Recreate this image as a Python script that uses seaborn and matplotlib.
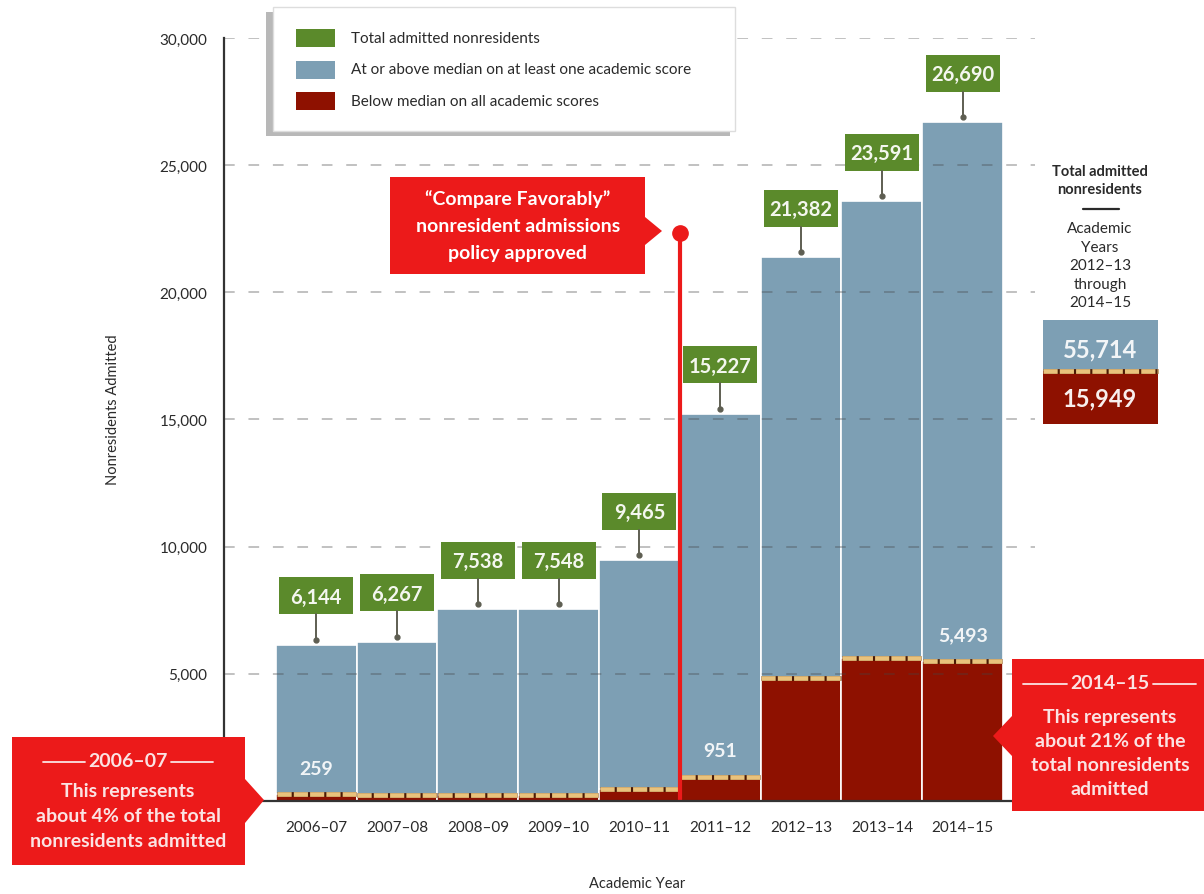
import matplotlib
matplotlib.use("Agg")
import matplotlib.pyplot as plt
import seaborn as sns
import pandas as pd
from matplotlib.patches import Polygon
from matplotlib.lines import Line2D

# ---- data -------------------------------------------------------------
years = ["2006–07", "2007–08", "2008–09", "2009–10", "2010–11",
         "2011–12", "2012–13", "2013–14", "2014–15"]
total_admitted = [6144, 6267, 7538, 7548, 9465, 15227, 21382, 23591, 26690]
below_median = [259, 218, 245, 222, 470, 951, 4842, 5614, 5493]
labeled_below_idx = [0, 5, 8]
y_ticks = [5000, 10000, 15000, 20000, 25000, 30000]
policy_year_boundary = 4.5
policy_marker_y = 22350
summary_years = slice(6, 9)

# ---- colours -----------------------------------------------------------
GREEN = "#5b8a2b"
BLUE = "#7d9fb4"
DARK_RED = "#8e1100"
RED = "#ec1a1a"
TAN = "#e9c27c"
NOTCH = "#4a1a05"
INK = "#2a2a2a"
SEAM_DASH = (0, (3.0, 0.45))   # scaled by the 3.4 pt line width

sns.set_theme(style="white")
plt.rcParams["font.family"] = ["Lato", "DejaVu Sans"]

W, H = 1204, 895
fig = plt.figure(figsize=(W / 100, H / 100), dpi=100)
ax = fig.add_axes([224 / W, 1 - 802 / H, (1035 - 224) / W, (802 - 39) / H])

df = pd.DataFrame({"year": years, "total": total_admitted, "below": below_median})

sns.barplot(data=df, x="year", y="total", color=BLUE, saturation=1, width=1,
            errorbar=None, edgecolor="white", linewidth=1.2, ax=ax, zorder=2)
sns.barplot(data=df, x="year", y="below", color=DARK_RED, saturation=1, width=1,
            errorbar=None, edgecolor="white", linewidth=1.2, ax=ax, zorder=2)

ax.set_xlim(-1.142, 8.895)
ax.set_ylim(0, 30000)
ax.set_yticks(y_ticks)
ax.set_yticklabels([f"{t:,}" for t in y_ticks])
ax.set_xlabel("")
ax.set_ylabel("")
sns.despine(ax=ax)
for side in ("left", "bottom"):
    ax.spines[side].set_color("#333333")
    ax.spines[side].set_linewidth(1.6)
    ax.spines[side].set_zorder(6)
ax.tick_params(axis="y", direction="in", length=13, width=1.4, color="#333333",
               pad=12, labelsize=11, labelcolor=INK)
ax.tick_params(axis="x", length=0, pad=14, labelsize=11, labelcolor=INK)

# dashed grid laid over the bars
for t in y_ticks:
    ax.axhline(t, color="#444444", alpha=0.42, lw=1.1, ls=(0, (7, 9)), zorder=3)

# tan seam between the two segments of every bar
for i, b in enumerate(below_median):
    ax.plot([i - 0.49, i + 0.49], [b, b], color=NOTCH, lw=3.4,
            solid_capstyle="butt", zorder=4)
    ax.plot([i - 0.49, i + 0.49], [b, b], color=TAN, lw=3.4,
            ls=SEAM_DASH, dash_capstyle="butt", zorder=4.5)

# values of the lower segment
for i in labeled_below_idx:
    ax.annotate(f"{below_median[i]:,}", xy=(i, below_median[i]), xytext=(0, 19),
                textcoords="offset points", ha="center", va="center",
                color="#f2f5f7", fontsize=14, fontweight="bold", zorder=6)

# policy marker line
ax.plot([policy_year_boundary, policy_year_boundary], [0, policy_marker_y],
        color=RED, lw=3, zorder=5, solid_capstyle="butt")
ax.plot([policy_year_boundary], [policy_marker_y], "o", ms=11, color=RED, zorder=5)


# ---- figure-space helpers (pixel coords measured from the top-left) -----
def fx(x):
    return x / W


def fy(y):
    return 1 - y / H


def ftext(x, y, s, **kw):
    kw.setdefault("ha", "center")
    kw.setdefault("va", "center")
    fig.text(fx(x), fy(y), s, **kw)


def fpoly(pts, **kw):
    fig.add_artist(Polygon([(fx(x), fy(y)) for x, y in pts], closed=True,
                           transform=fig.transFigure, **kw))


def fline(xs, ys, **kw):
    fig.add_artist(Line2D([fx(x) for x in xs], [fy(y) for y in ys],
                          transform=fig.transFigure, **kw))


# green total labels above each bar
for i, tot in enumerate(total_admitted):
    px, py = ax.transData.transform((i, tot))
    top = H - py
    cx = px
    cy = top - 49
    fpoly([(cx - 37, cy - 18.5), (cx + 37, cy - 18.5), (cx + 37, cy + 18.5),
           (cx - 37, cy + 18.5)], facecolor=GREEN, edgecolor="none")
    ftext(cx, cy + 1, f"{tot:,}", color="#f4f7ef", fontsize=14.5, fontweight="bold")
    fline([cx, cx], [cy + 18.5, top - 5], color="#5e5e52", lw=1.4)
    fig.add_artist(Line2D([fx(cx)], [fy(top - 5)], marker="o", ms=3.5,
                          color="#5e5e52", transform=fig.transFigure))

# legend
fpoly([(266, 13), (730, 13), (730, 137), (266, 137)], facecolor="#b8b8b8",
      edgecolor="none")
fpoly([(273, 8), (735, 8), (735, 132), (273, 132)], facecolor="white",
      edgecolor="#dddddd", lw=1)
legend_items = [(GREEN, "Total admitted nonresidents"),
                (BLUE, "At or above median on at least one academic score"),
                (DARK_RED, "Below median on all academic scores")]
for k, (c, lab) in enumerate(legend_items):
    yc = 39 + k * 31.5
    fpoly([(296, yc - 9), (335, yc - 9), (335, yc + 9), (296, yc + 9)],
          facecolor=c, edgecolor="none")
    ftext(351, yc, lab, ha="left", fontsize=11, color=INK)

# policy callout
fpoly([(390, 178), (645, 178), (645, 218), (662, 232), (645, 246),
       (645, 275), (390, 275)], facecolor=RED, edgecolor="none")
for k, s in enumerate(["\u201cCompare Favorably\u201d", "nonresident admissions",
                       "policy approved"]):
    ftext(518, 199 + k * 27, s, color="white", fontsize=14, fontweight="bold")

# 2006-07 callout
share_first = round(below_median[0] / total_admitted[0] * 100)
fpoly([(12, 738), (245, 738), (245, 780), (264, 801), (245, 824),
       (245, 866), (12, 866)], facecolor=RED, edgecolor="none")
ftext(128, 762, years[0], color="#fbe3e3", fontsize=14, fontweight="bold")
fline([43, 85], [763, 763], color="#fbe3e3", lw=1.3)
fline([171, 213], [763, 763], color="#fbe3e3", lw=1.3)
for k, s in enumerate(["This represents", f"about {share_first}% of the total",
                       "nonresidents admitted"]):
    ftext(128, 792 + k * 25, s, color="#fbe3e3", fontsize=14, fontweight="bold")

# 2014-15 callout
share_last = round(below_median[-1] / total_admitted[-1] * 100)
fpoly([(1012, 660), (1204, 660), (1204, 812), (1012, 812), (1012, 757),
       (993, 737), (1012, 717)], facecolor=RED, edgecolor="none")
ftext(1110, 684, years[-1], color="#fbe3e3", fontsize=14, fontweight="bold")
fline([1023, 1067], [685, 685], color="#fbe3e3", lw=1.3)
fline([1153, 1196], [685, 685], color="#fbe3e3", lw=1.3)
for k, s in enumerate(["This represents", f"about {share_last}% of the",
                       "total nonresidents", "admitted"]):
    ftext(1110, 718 + k * 24, s, color="#fbe3e3", fontsize=14, fontweight="bold")

# three-year summary
sum_below = sum(below_median[summary_years])
sum_above = sum(total_admitted[summary_years]) - sum_below
ftext(1100, 172, "Total admitted", fontsize=10.5, fontweight="bold", color=INK)
ftext(1100, 190, "nonresidents", fontsize=10.5, fontweight="bold", color=INK)
fline([1083, 1119], [210, 210], color=INK, lw=1.6)
for k, s in enumerate(["Academic", "Years", f"20{years[6][2:4]}–{years[6][-2:]}",
                       "through", f"20{years[8][2:4]}–{years[8][-2:]}"]):
    ftext(1100, 229 + k * 18.5, s, fontsize=11, color=INK)
fpoly([(1043, 321), (1158, 321), (1158, 372), (1043, 372)], facecolor=BLUE,
      edgecolor="none")
fpoly([(1043, 372), (1158, 372), (1158, 425), (1043, 425)], facecolor=DARK_RED,
      edgecolor="none")
fline([1043, 1158], [372, 372], color=NOTCH, lw=3.4, solid_capstyle="butt")
fline([1043, 1158], [372, 372], color=TAN, lw=3.4, ls=SEAM_DASH,
      dash_capstyle="butt")
ftext(1100, 350, f"{sum_above:,}", color="#f2f5f7", fontsize=17, fontweight="bold")
ftext(1100, 399, f"{sum_below:,}", color="#f8efee", fontsize=17, fontweight="bold")

# axis titles
ftext(113, 410, "Nonresidents Admitted", rotation=90, fontsize=10.5, color=INK)
ftext(637, 884, "Academic Year", fontsize=10.5, color=INK)

fig.savefig("out.png", dpi=100)
